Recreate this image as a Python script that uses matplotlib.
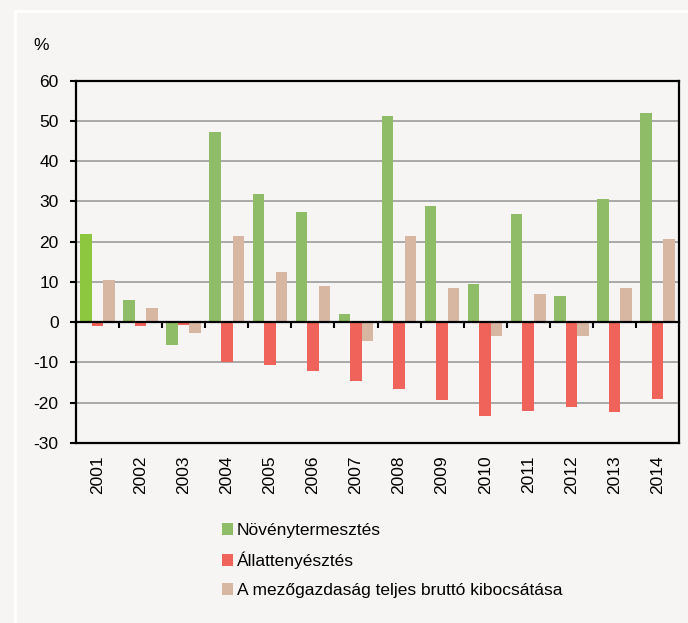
import numpy as np
import matplotlib
matplotlib.use("Agg")
import matplotlib.pyplot as plt
from matplotlib.patches import Patch, Rectangle

years = ["2001", "2002", "2003", "2004", "2005", "2006", "2007",
         "2008", "2009", "2010", "2011", "2012", "2013", "2014"]
novenytermesztes = [21.8, 5.4, -5.6, 47.2, 31.8, 27.4, 2.1, 51.2, 28.8, 9.4, 26.8, 6.6, 30.5, 52.0]
allattenyesztes = [-1.0, -1.0, -0.7, -10.0, -10.5, -12.2, -14.7, -16.7, -19.3, -23.2, -22.0, -21.1, -22.4, -19.1]
teljes = [10.4, 3.6, -2.6, 21.3, 12.4, 9.0, -4.6, 21.4, 8.5, -3.4, 6.9, -3.4, 8.5, 20.6]
series_names = ["Növénytermesztés", "Állattenyésztés", "A mezőgazdaság teljes bruttó kibocsátása"]
yticks = [-30, -20, -10, 0, 10, 20, 30, 40, 50, 60]

BG = "#f6f5f3"
GREEN = "#8fbd67"
GREEN_FIRST = "#8dc63f"
RED = "#f0635a"
TAN = "#d8b7a2"

plt.rcParams['font.family'] = ['Liberation Sans', 'DejaVu Sans']

W, H = 688, 623
fig = plt.figure(figsize=(W / 100, H / 100), dpi=100, facecolor=BG)
ax = fig.add_axes([76 / W, 1 - 443 / H, (679 - 76) / W, (443 - 80.7) / H])
ax.set_facecolor(BG)

x = np.arange(len(years))
bw = 0.267
gcols = [GREEN_FIRST] + [GREEN] * (len(years) - 1)
ax.bar(x - bw, novenytermesztes, bw, color=gcols, zorder=2, linewidth=0)
ax.bar(x, allattenyesztes, bw, color=RED, zorder=2, linewidth=0)
ax.bar(x + bw, teljes, bw, color=TAN, zorder=2, linewidth=0)

ymin, ymax = -30, 60
ax.set_ylim(ymin, ymax)
ax.set_xlim(-0.5, len(years) - 0.5)
ax.set_yticks(yticks)
ax.set_yticklabels([str(v) for v in yticks], fontsize=12.5)
ax.tick_params(axis='y', length=4.5, width=1.5, pad=8, color='black')
ax.set_xticks(x)
ax.set_xticklabels(years, rotation=90, fontsize=12.5)
ax.tick_params(axis='x', length=0, pad=9)

for v in yticks:
    if v not in (ymin, ymax, 0):
        ax.axhline(v, color="#a3a3a3", linewidth=1.3, zorder=1)

for s in ax.spines.values():
    s.set_linewidth(1.6)
    s.set_color('black')

# zero line with tick marks between groups
zero_frac = (0 - ymin) / (ymax - ymin)
sec = ax.secondary_xaxis(zero_frac)
sec.set_xticks(np.arange(-0.5, len(years), 1.0))
sec.set_xticklabels([])
sec.tick_params(axis='x', direction='out', length=4.5, width=1.5, color='black')
sec.spines['bottom'].set_linewidth(1.6)
sec.spines['bottom'].set_color('black')
sec.set_zorder(3)

fig.text(33 / W, 1 - 45 / H, "%", fontsize=12.5, ha='left', va='center')

handles = [Patch(facecolor=GREEN, edgecolor='none'),
           Patch(facecolor=RED, edgecolor='none'),
           Patch(facecolor=TAN, edgecolor='none')]
fig.legend(handles, series_names, loc='upper left',
           bbox_to_anchor=(222 / W, 1 - 523 / H), frameon=False,
           fontsize=12.5, handlelength=0.65, handleheight=0.65,
           handletextpad=0.2, labelspacing=0.8, borderpad=0, borderaxespad=0)

fig.patches.append(Rectangle((15.5 / W, -0.1), 1.2, 1.1 - 11 / H,
                             transform=fig.transFigure, fill=False,
                             edgecolor='white', linewidth=2))

fig.savefig("out.png", dpi=100, facecolor=BG)
